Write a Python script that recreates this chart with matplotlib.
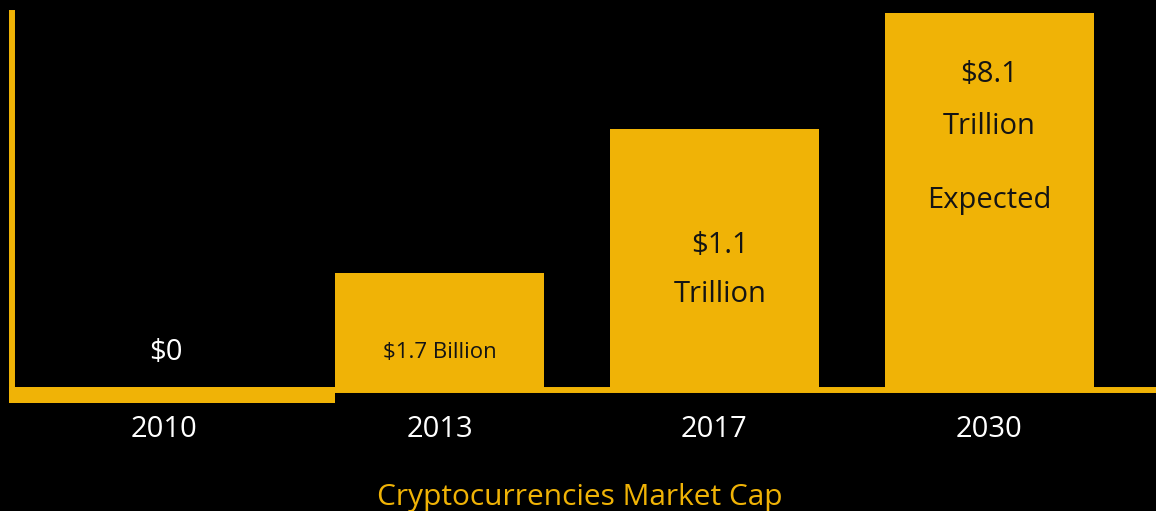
import matplotlib.pyplot as plt

# chart data (bar heights are the drawn, not-to-scale heights)
years = ["2010", "2013", "2017", "2030"]
bar_heights = [0, 117, 261, 377]
value_labels = ["$0", "$1.7 Billion", "$1.1\nTrillion", "$8.1\nTrillion\nExpected"]
title = "Cryptocurrencies Market Cap"

gold = "#F0B306"
plt.rcParams['font.family'] = ['Open Sans', 'DejaVu Sans']

fig = plt.figure(figsize=(11.56, 5.11), dpi=100, facecolor="black")
ax = fig.add_axes([12 / 1156, 121 / 511, 1144 / 1156, 377 / 511])
ax.set_facecolor("black")

x = list(range(len(years)))
ax.bar(x[1:], bar_heights[1:], width=0.76, color=gold, zorder=2)
# 2010 has no bar, only a thick strip under the baseline
ax.bar(x[0] + 0.027, 16, width=1.186, bottom=-13, color=gold, clip_on=False, zorder=3)

ax.set_xlim(-0.5545, 3.6055)
ax.set_ylim(0, 377)

for side in ["top", "right"]:
    ax.spines[side].set_visible(False)
for side in ["left", "bottom"]:
    ax.spines[side].set_color(gold)
    ax.spines[side].set_linewidth(4.3)
    ax.spines[side].set_zorder(4)

ax.set_yticks([])
ax.set_xticks(x)
ax.set_xticklabels(years, color="white", fontsize=21)
ax.tick_params(axis="x", length=0, pad=18)

# value labels, one text per line
line_y = [[38], [38], [145, 96], [316, 264, 190]]
label_x = [0.005, 1.0, 2.02, 3.0]
label_color = ["white", "#141414", "#141414", "#141414"]
label_size = [21, 16, 21, 21]
for i, lab in enumerate(value_labels):
    for line, yy in zip(lab.split("\n"), line_y[i]):
        ax.text(label_x[i], yy, line, color=label_color[i], fontsize=label_size[i],
                ha="center", va="center")

fig.text(580 / 1156, 1 - 497 / 511, title, color=gold, fontsize=21.5, ha="center", va="center")

fig.savefig("out.png", dpi=100, facecolor="black")
